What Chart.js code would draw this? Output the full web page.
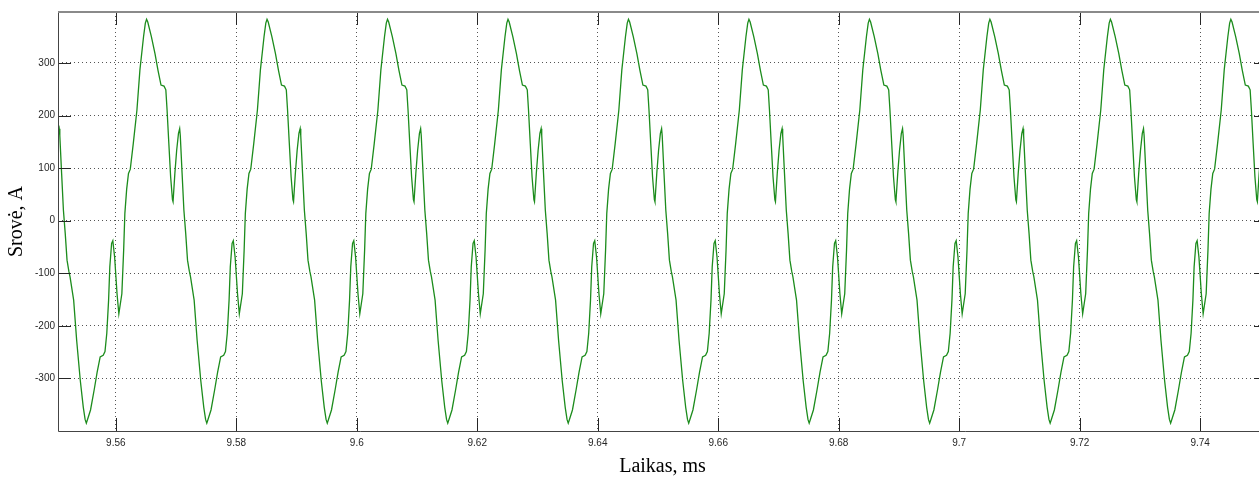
<!DOCTYPE html>
<html lang="lt">
<head>
  <meta charset="UTF-8">
  <title>Srovė</title>
  <script src="https://cdn.jsdelivr.net/npm/chart.js"></script>
  <style>
    html, body { margin: 0; padding: 0; overflow: hidden; background: #fff; }
    canvas { display: block; }
  </style>
</head>
<body>
<!-- canvas is a bit wider than the window: the right edge of the axes box is cut off like in the original -->
<canvas id="srovesChart" width="1268" height="480"></canvas>

<script>
  // time, ms (one line per period)
  var timeMs = [
    9.5498, 9.5501, 9.5504, 9.5506, 9.5507, 9.5510, 9.5513, 9.5516, 9.5519, 9.5522, 9.5524, 9.5530, 9.5535, 9.5541, 9.5546, 9.5549, 9.5551, 9.5553, 9.5558, 9.5564, 9.5569, 9.5574, 9.5579, 9.5582, 9.5585, 9.5588, 9.5590, 9.5593, 9.5595, 9.5598, 9.5602, 9.5605, 9.5610, 9.5613, 9.5615, 9.5618, 9.5621, 9.5624, 9.5629, 9.5635, 9.5640, 9.5646, 9.5649,
    9.5651, 9.5653, 9.5659, 9.5665, 9.5670, 9.5675, 9.5680, 9.5683, 9.5685, 9.5688, 9.5691, 9.5694, 9.5695, 9.5698, 9.5701, 9.5704, 9.5706, 9.5707, 9.5710, 9.5713, 9.5716, 9.5719, 9.5722, 9.5724, 9.5730, 9.5735, 9.5741, 9.5746, 9.5749, 9.5751, 9.5753, 9.5758, 9.5764, 9.5769, 9.5774, 9.5779, 9.5782, 9.5785, 9.5788, 9.5790, 9.5793, 9.5795, 9.5798, 9.5802, 9.5805, 9.5810, 9.5813, 9.5815, 9.5818, 9.5821, 9.5824, 9.5829, 9.5835, 9.5840, 9.5846, 9.5849,
    9.5851, 9.5853, 9.5859, 9.5865, 9.5870, 9.5875, 9.5880, 9.5883, 9.5885, 9.5888, 9.5891, 9.5894, 9.5895, 9.5898, 9.5901, 9.5904, 9.5906, 9.5907, 9.5910, 9.5913, 9.5916, 9.5919, 9.5922, 9.5924, 9.5930, 9.5935, 9.5941, 9.5946, 9.5949, 9.5951, 9.5953, 9.5958, 9.5964, 9.5969, 9.5974, 9.5979, 9.5982, 9.5985, 9.5988, 9.5990, 9.5993, 9.5995, 9.5998, 9.6002, 9.6005, 9.6010, 9.6013, 9.6015, 9.6018, 9.6021, 9.6024, 9.6029, 9.6035, 9.6040, 9.6046, 9.6049,
    9.6051, 9.6053, 9.6059, 9.6065, 9.6070, 9.6075, 9.6080, 9.6083, 9.6085, 9.6088, 9.6091, 9.6094, 9.6095, 9.6098, 9.6101, 9.6104, 9.6106, 9.6107, 9.6110, 9.6113, 9.6116, 9.6119, 9.6122, 9.6124, 9.6130, 9.6135, 9.6141, 9.6146, 9.6149, 9.6151, 9.6153, 9.6158, 9.6164, 9.6169, 9.6174, 9.6179, 9.6182, 9.6185, 9.6188, 9.6190, 9.6193, 9.6195, 9.6198, 9.6202, 9.6205, 9.6210, 9.6213, 9.6215, 9.6218, 9.6221, 9.6224, 9.6229, 9.6235, 9.6240, 9.6246, 9.6249,
    9.6251, 9.6253, 9.6259, 9.6265, 9.6270, 9.6275, 9.6280, 9.6283, 9.6285, 9.6288, 9.6291, 9.6294, 9.6295, 9.6298, 9.6301, 9.6304, 9.6306, 9.6307, 9.6310, 9.6313, 9.6316, 9.6319, 9.6322, 9.6324, 9.6330, 9.6335, 9.6341, 9.6346, 9.6349, 9.6351, 9.6353, 9.6358, 9.6364, 9.6369, 9.6374, 9.6379, 9.6382, 9.6385, 9.6388, 9.6390, 9.6393, 9.6395, 9.6398, 9.6402, 9.6405, 9.6410, 9.6413, 9.6415, 9.6418, 9.6421, 9.6424, 9.6429, 9.6435, 9.6440, 9.6446, 9.6449,
    9.6451, 9.6453, 9.6459, 9.6465, 9.6470, 9.6475, 9.6480, 9.6483, 9.6485, 9.6488, 9.6491, 9.6494, 9.6495, 9.6498, 9.6501, 9.6504, 9.6506, 9.6507, 9.6510, 9.6513, 9.6516, 9.6519, 9.6522, 9.6524, 9.6530, 9.6535, 9.6541, 9.6546, 9.6549, 9.6551, 9.6553, 9.6558, 9.6564, 9.6569, 9.6574, 9.6579, 9.6582, 9.6585, 9.6588, 9.6590, 9.6593, 9.6595, 9.6598, 9.6602, 9.6605, 9.6610, 9.6613, 9.6615, 9.6618, 9.6621, 9.6624, 9.6629, 9.6635, 9.6640, 9.6646, 9.6649,
    9.6651, 9.6653, 9.6659, 9.6665, 9.6670, 9.6675, 9.6680, 9.6683, 9.6685, 9.6688, 9.6691, 9.6694, 9.6695, 9.6698, 9.6701, 9.6704, 9.6706, 9.6707, 9.6710, 9.6713, 9.6716, 9.6719, 9.6722, 9.6724, 9.6730, 9.6735, 9.6741, 9.6746, 9.6749, 9.6751, 9.6753, 9.6758, 9.6764, 9.6769, 9.6774, 9.6779, 9.6782, 9.6785, 9.6788, 9.6790, 9.6793, 9.6795, 9.6798, 9.6802, 9.6805, 9.6810, 9.6813, 9.6815, 9.6818, 9.6821, 9.6824, 9.6829, 9.6835, 9.6840, 9.6846, 9.6849,
    9.6851, 9.6853, 9.6859, 9.6865, 9.6870, 9.6875, 9.6880, 9.6883, 9.6885, 9.6888, 9.6891, 9.6894, 9.6895, 9.6898, 9.6901, 9.6904, 9.6906, 9.6907, 9.6910, 9.6913, 9.6916, 9.6919, 9.6922, 9.6924, 9.6930, 9.6935, 9.6941, 9.6946, 9.6949, 9.6951, 9.6953, 9.6958, 9.6964, 9.6969, 9.6974, 9.6979, 9.6982, 9.6985, 9.6988, 9.6990, 9.6993, 9.6995, 9.6998, 9.7002, 9.7005, 9.7010, 9.7013, 9.7015, 9.7018, 9.7021, 9.7024, 9.7029, 9.7035, 9.7040, 9.7046, 9.7049,
    9.7051, 9.7053, 9.7059, 9.7065, 9.7070, 9.7075, 9.7080, 9.7083, 9.7085, 9.7088, 9.7091, 9.7094, 9.7095, 9.7098, 9.7101, 9.7104, 9.7106, 9.7107, 9.7110, 9.7113, 9.7116, 9.7119, 9.7122, 9.7124, 9.7130, 9.7135, 9.7141, 9.7146, 9.7149, 9.7151, 9.7153, 9.7158, 9.7164, 9.7169, 9.7174, 9.7179, 9.7182, 9.7185, 9.7188, 9.7190, 9.7193, 9.7195, 9.7198, 9.7202, 9.7205, 9.7210, 9.7213, 9.7215, 9.7218, 9.7221, 9.7224, 9.7229, 9.7235, 9.7240, 9.7246, 9.7249,
    9.7251, 9.7253, 9.7259, 9.7265, 9.7270, 9.7275, 9.7280, 9.7283, 9.7285, 9.7288, 9.7291, 9.7294, 9.7295, 9.7298, 9.7301, 9.7304, 9.7306, 9.7307, 9.7310, 9.7313, 9.7316, 9.7319, 9.7322, 9.7324, 9.7330, 9.7335, 9.7341, 9.7346, 9.7349, 9.7351, 9.7353, 9.7358, 9.7364, 9.7369, 9.7374, 9.7379, 9.7382, 9.7385, 9.7388, 9.7390, 9.7393, 9.7395, 9.7398, 9.7402, 9.7405, 9.7410, 9.7413, 9.7415, 9.7418, 9.7421, 9.7424, 9.7429, 9.7435, 9.7440, 9.7446, 9.7449,
    9.7451, 9.7453, 9.7459, 9.7465, 9.7470, 9.7475, 9.7480, 9.7483, 9.7485, 9.7488, 9.7491, 9.7494, 9.7495, 9.7498, 9.7501, 9.7504, 9.7506, 9.7507, 9.7510, 9.7513
  ];

  // current, A (same lines as timeMs)
  var currentA = [
    90, 134, 166, 175, 162, 90, 20, -24, -75, -96, -107, -151, -228, -304, -355, -378, -385, -378, -360, -322, -288, -259, -256, -249, -214, -151, -88, -43, -38, -69, -139, -177, -139, -56, 14, 60, 90, 98, 147, 210, 287, 350, 376,
    383, 378, 350, 318, 286, 258, 256, 249, 212, 147, 83, 40, 36, 90, 134, 166, 175, 162, 90, 20, -24, -75, -96, -107, -151, -228, -304, -355, -378, -385, -378, -360, -322, -288, -259, -256, -249, -214, -151, -88, -43, -38, -69, -139, -177, -139, -56, 14, 60, 90, 98, 147, 210, 287, 350, 376,
    383, 378, 350, 318, 286, 258, 256, 249, 212, 147, 83, 40, 36, 90, 134, 166, 175, 162, 90, 20, -24, -75, -96, -107, -151, -228, -304, -355, -378, -385, -378, -360, -322, -288, -259, -256, -249, -214, -151, -88, -43, -38, -69, -139, -177, -139, -56, 14, 60, 90, 98, 147, 210, 287, 350, 376,
    383, 378, 350, 318, 286, 258, 256, 249, 212, 147, 83, 40, 36, 90, 134, 166, 175, 162, 90, 20, -24, -75, -96, -107, -151, -228, -304, -355, -378, -385, -378, -360, -322, -288, -259, -256, -249, -214, -151, -88, -43, -38, -69, -139, -177, -139, -56, 14, 60, 90, 98, 147, 210, 287, 350, 376,
    383, 378, 350, 318, 286, 258, 256, 249, 212, 147, 83, 40, 36, 90, 134, 166, 175, 162, 90, 20, -24, -75, -96, -107, -151, -228, -304, -355, -378, -385, -378, -360, -322, -288, -259, -256, -249, -214, -151, -88, -43, -38, -69, -139, -177, -139, -56, 14, 60, 90, 98, 147, 210, 287, 350, 376,
    383, 378, 350, 318, 286, 258, 256, 249, 212, 147, 83, 40, 36, 90, 134, 166, 175, 162, 90, 20, -24, -75, -96, -107, -151, -228, -304, -355, -378, -385, -378, -360, -322, -288, -259, -256, -249, -214, -151, -88, -43, -38, -69, -139, -177, -139, -56, 14, 60, 90, 98, 147, 210, 287, 350, 376,
    383, 378, 350, 318, 286, 258, 256, 249, 212, 147, 83, 40, 36, 90, 134, 166, 175, 162, 90, 20, -24, -75, -96, -107, -151, -228, -304, -355, -378, -385, -378, -360, -322, -288, -259, -256, -249, -214, -151, -88, -43, -38, -69, -139, -177, -139, -56, 14, 60, 90, 98, 147, 210, 287, 350, 376,
    383, 378, 350, 318, 286, 258, 256, 249, 212, 147, 83, 40, 36, 90, 134, 166, 175, 162, 90, 20, -24, -75, -96, -107, -151, -228, -304, -355, -378, -385, -378, -360, -322, -288, -259, -256, -249, -214, -151, -88, -43, -38, -69, -139, -177, -139, -56, 14, 60, 90, 98, 147, 210, 287, 350, 376,
    383, 378, 350, 318, 286, 258, 256, 249, 212, 147, 83, 40, 36, 90, 134, 166, 175, 162, 90, 20, -24, -75, -96, -107, -151, -228, -304, -355, -378, -385, -378, -360, -322, -288, -259, -256, -249, -214, -151, -88, -43, -38, -69, -139, -177, -139, -56, 14, 60, 90, 98, 147, 210, 287, 350, 376,
    383, 378, 350, 318, 286, 258, 256, 249, 212, 147, 83, 40, 36, 90, 134, 166, 175, 162, 90, 20, -24, -75, -96, -107, -151, -228, -304, -355, -378, -385, -378, -360, -322, -288, -259, -256, -249, -214, -151, -88, -43, -38, -69, -139, -177, -139, -56, 14, 60, 90, 98, 147, 210, 287, 350, 376,
    383, 378, 350, 318, 286, 258, 256, 249, 212, 147, 83, 40, 36, 90, 134, 166, 175, 162, 90, 20
  ];

  var xTickValues = [9.56, 9.58, 9.60, 9.62, 9.64, 9.66, 9.68, 9.70, 9.72, 9.74];
  var xTickLabels = ['9.56', '9.58', '9.6', '9.62', '9.64', '9.66', '9.68', '9.7', '9.72', '9.74'];
  var yTickValues = [-300, -200, -100, 0, 100, 200, 300];
  var yTickLabels = ['-300', '-200', '-100', '0', '100', '200', '300'];

  var xTitle = 'Laikas, ms';
  var yTitle = 'Srovė, A';

  var points = timeMs.map(function(t, i) {
    return { x: t, y: currentA[i] };
  });

  // MATLAB style: tick marks inside on all four sides + box
  var matlabBox = {
    id: 'matlabBox',
    afterDatasetsDraw: function(chart) {
      var ctx = chart.ctx;
      var a = chart.chartArea;
      var xs = chart.scales.x, ys = chart.scales.y;
      var len = 13;
      ctx.save();
      ctx.strokeStyle = '#262626';
      ctx.lineWidth = 1;
      ctx.beginPath();
      xTickValues.forEach(function(v) {
        var px = Math.round(xs.getPixelForValue(v)) + 0.5;
        ctx.moveTo(px, a.bottom); ctx.lineTo(px, a.bottom - len);
        ctx.moveTo(px, a.top); ctx.lineTo(px, a.top + len);
      });
      yTickValues.forEach(function(v) {
        var py = Math.round(ys.getPixelForValue(v)) + 0.5;
        ctx.moveTo(a.left, py); ctx.lineTo(a.left + len, py);
        ctx.moveTo(a.right, py); ctx.lineTo(a.right - len, py);
      });
      ctx.stroke();

      ctx.strokeStyle = '#444';
      ctx.beginPath();
      ctx.moveTo(a.left + 0.5, a.top);
      ctx.lineTo(a.left + 0.5, a.bottom + 0.5);
      ctx.lineTo(a.right + 0.5, a.bottom + 0.5);
      ctx.lineTo(a.right + 0.5, a.top);
      ctx.stroke();

      ctx.strokeStyle = '#8a8a8a';
      ctx.lineWidth = 2;
      ctx.beginPath();
      ctx.moveTo(a.left, a.top);
      ctx.lineTo(a.right + 1, a.top);
      ctx.stroke();
      ctx.restore();
    }
  };

  var tickFont = { family: "'Liberation Sans', Arial, sans-serif", size: 10 };
  var titleFont = { family: "'Liberation Serif', 'Times New Roman', serif", size: 20 };

  var ctx = document.getElementById('srovesChart').getContext('2d');
  new Chart(ctx, {
    type: 'line',
    data: {
      datasets: [{
        data: points,
        borderColor: '#1c8c1c',
        borderWidth: 1.3,
        pointRadius: 0,
        tension: 0,
        fill: false
      }]
    },
    plugins: [matlabBox],
    options: {
      responsive: false,
      animation: false,
      events: [],
      layout: { padding: { top: 12, right: 1, left: 0, bottom: 0 } },
      plugins: {
        legend: { display: false },
        tooltip: { enabled: false }
      },
      scales: {
        x: {
          type: 'linear',
          min: 9.5504,
          max: 9.7511,
          afterBuildTicks: function(scale) {
            scale.ticks = xTickValues.map(function(v) { return { value: v }; });
          },
          afterFit: function(scale) { scale.height = 49; },
          grid: { color: '#555', drawTicks: false, lineWidth: 1 },
          border: { display: false, dash: [1, 3] },
          ticks: {
            autoSkip: false,
            maxRotation: 0,
            padding: 6,
            color: '#262626',
            font: tickFont,
            callback: function(v, i) { return xTickLabels[i]; }
          },
          title: {
            display: true,
            text: xTitle,
            color: '#000',
            font: titleFont,
            padding: { top: 0, bottom: 1 }
          }
        },
        y: {
          type: 'linear',
          min: -400,
          max: 397,
          afterBuildTicks: function(scale) {
            scale.ticks = yTickValues.map(function(v) { return { value: v }; });
          },
          afterFit: function(scale) { scale.width = 58; },
          grid: { color: '#555', drawTicks: false, lineWidth: 1 },
          border: { display: false, dash: [1, 3] },
          ticks: {
            padding: 3,
            color: '#262626',
            font: tickFont,
            callback: function(v, i) { return yTickLabels[i]; }
          },
          title: {
            display: true,
            text: yTitle,
            color: '#000',
            font: titleFont,
            padding: { top: 5, bottom: 0 }
          }
        }
      }
    }
  });
</script>
</body>
</html>
